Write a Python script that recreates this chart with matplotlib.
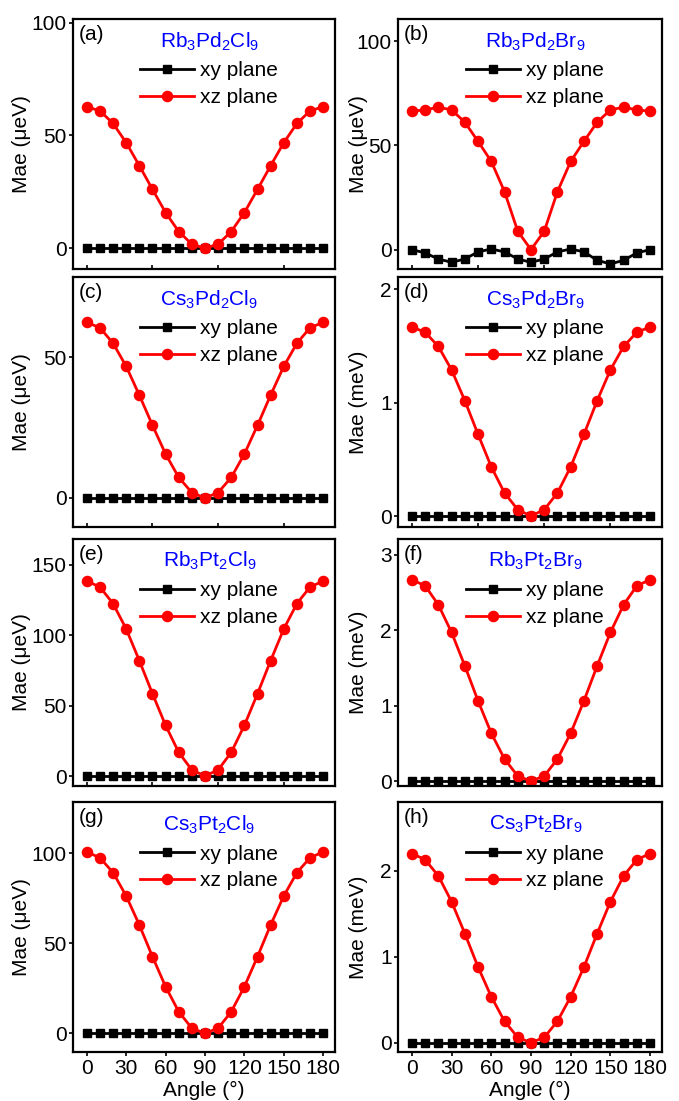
import numpy as np
import matplotlib
matplotlib.use('Agg')
import matplotlib.pyplot as plt

plt.rcParams['font.family'] = ['Liberation Sans', 'DejaVu Sans']
plt.rcParams['mathtext.fontset'] = 'custom'
plt.rcParams['mathtext.rm'] = 'Liberation Sans'
plt.rcParams['mathtext.default'] = 'regular'

# --- data: MAE vs rotation angle ---
angles = [0, 10, 20, 30, 40, 50, 60, 70, 80, 90, 100, 110, 120, 130, 140, 150, 160, 170, 180]

zeros = [0.0] * 19

# (a) Rb3Pd2Cl9, ueV
a_xz = [62.7, 60.9, 55.3, 46.8, 36.6, 26.1, 15.8, 7.4, 1.8, 0.0,
        1.8, 7.4, 15.8, 26.1, 36.6, 46.8, 55.3, 60.9, 62.7]
# (b) Rb3Pd2Br9, ueV
b_xy = [0.0, -1.6, -4.5, -6.1, -4.5, -1.1, 0.3, -1.1, -4.5, -6.1,
        -4.5, -1.1, 0.3, -1.1, -5.1, -6.9, -5.1, -1.6, 0.0]
b_xz = [66.4, 67.0, 68.3, 67.0, 61.1, 51.9, 42.3, 27.8, 8.8, 0.0,
        8.8, 27.8, 42.3, 51.9, 61.1, 67.0, 68.3, 67.0, 66.4]
# (c) Cs3Pd2Cl9, ueV
c_xz = [62.3, 60.4, 54.9, 46.7, 36.5, 25.8, 15.6, 7.3, 1.9, 0.0,
        1.9, 7.3, 15.6, 25.8, 36.5, 46.7, 54.9, 60.4, 62.3]
# (d) Cs3Pd2Br9, meV
d_xz = [1.667, 1.622, 1.496, 1.289, 1.018, 0.720, 0.434, 0.204, 0.056, 0.0,
        0.056, 0.204, 0.434, 0.720, 1.018, 1.289, 1.496, 1.622, 1.667]
# (e) Rb3Pt2Cl9, ueV
e_xz = [138.5, 134.3, 122.5, 104.5, 82.0, 58.5, 36.0, 16.8, 4.3, 0.0,
        4.3, 16.8, 36.0, 58.5, 82.0, 104.5, 122.5, 134.3, 138.5]
# (f) Rb3Pt2Br9, meV
f_xz = [2.668, 2.588, 2.336, 1.969, 1.527, 1.062, 0.633, 0.292, 0.066, 0.0,
        0.066, 0.292, 0.633, 1.062, 1.527, 1.969, 2.336, 2.588, 2.668]
# (g) Cs3Pt2Cl9, ueV
g_xz = [100.8, 97.5, 89.3, 76.3, 60.2, 42.6, 25.9, 12.0, 2.8, 0.0,
        2.8, 12.0, 25.9, 42.6, 60.2, 76.3, 89.3, 97.5, 100.8]
# (h) Cs3Pt2Br9, meV
h_xz = [2.20, 2.13, 1.94, 1.64, 1.27, 0.88, 0.535, 0.25, 0.062, 0.0,
        0.062, 0.25, 0.535, 0.88, 1.27, 1.64, 1.94, 2.13, 2.20]

tags = ['(a)', '(b)', '(c)', '(d)', '(e)', '(f)', '(g)', '(h)']
compounds = [r'Rb$_3$Pd$_2$Cl$_9$', r'Rb$_3$Pd$_2$Br$_9$',
             r'Cs$_3$Pd$_2$Cl$_9$', r'Cs$_3$Pd$_2$Br$_9$',
             r'Rb$_3$Pt$_2$Cl$_9$', r'Rb$_3$Pt$_2$Br$_9$',
             r'Cs$_3$Pt$_2$Cl$_9$', r'Cs$_3$Pt$_2$Br$_9$']
ylabels = ['Mae (μeV)', 'Mae (μeV)', 'Mae (μeV)', 'Mae (meV)',
           'Mae (μeV)', 'Mae (meV)', 'Mae (μeV)', 'Mae (meV)']
xy_series = [zeros, b_xy, zeros, zeros, zeros, zeros, zeros, zeros]
xz_series = [a_xz, b_xz, c_xz, d_xz, e_xz, f_xz, g_xz, h_xz]
yticks = [[0, 50, 100], [0, 50, 100], [0, 50], [0, 1, 2],
          [0, 50, 100, 150], [0, 1, 2, 3], [0, 50, 100], [0, 1, 2]]
ylims = [(-9.2, 101.6), (-9.3, 110.6), (-10.3, 78.4), (-0.097, 2.109),
         (-7.1, 168.4), (-0.066, 3.208), (-10.4, 128.5), (-0.108, 2.80)]

# --- layout (pixel boxes of each panel) ---
W, H = 679, 1101
col_x = [(73, 262), (398, 264)]
row_y = [(19, 269), (277, 527), (539, 786), (802, 1052)]

fig = plt.figure(figsize=(W / 100, H / 100), dpi=100)

for i in range(8):
    r, c = i // 2, i % 2
    x0, w = col_x[c]
    top, bot = row_y[r]
    ax = fig.add_axes([x0 / W, (H - bot) / H, w / W, (bot - top) / H])

    ax.plot(angles, xy_series[i], color='black', marker='s', markersize=6,
            linewidth=2.0, label='xy plane')
    ax.plot(angles, xz_series[i], color='red', marker='o', markersize=7.3,
            linewidth=2.0, label='xz plane')

    ax.set_xlim(-10.5, 189)
    ax.set_ylim(*ylims[i])
    ax.set_yticks(yticks[i])

    for sp in ax.spines.values():
        sp.set_linewidth(1.6)

    ax.tick_params(axis='y', direction='out', length=3, width=1.2,
                   labelsize=15, pad=1.5)
    if r < 3:
        ax.set_xticks([0, 50, 100, 150])
        ax.tick_params(axis='x', direction='in', length=3, width=1.2,
                       labelbottom=False)
    else:
        ax.set_xticks([0, 30, 60, 90, 120, 150, 180])
        ax.tick_params(axis='x', direction='out', length=3, width=1.2,
                       labelsize=15, pad=2)
        ax.set_xlabel('Angle (°)', fontsize=15, labelpad=2)

    ax.set_ylabel(ylabels[i], fontsize=15)
    if c == 0:
        ax.yaxis.set_label_coords(-0.16, 0.5)
    else:
        ax.yaxis.set_label_coords(-0.114, 0.5)

    ax.text(0.022, 0.975, tags[i], transform=ax.transAxes, fontsize=15,
            ha='left', va='top')
    ax.text(0.52, 0.955, compounds[i], transform=ax.transAxes, fontsize=15,
            color='blue', ha='center', va='top')

    ax.legend(loc='upper left', bbox_to_anchor=(0.256, 0.83), frameon=False,
              fontsize=15, handlelength=2.6, handletextpad=0.3,
              labelspacing=0.38, borderpad=0, borderaxespad=0)

fig.savefig('out.png', dpi=100)
